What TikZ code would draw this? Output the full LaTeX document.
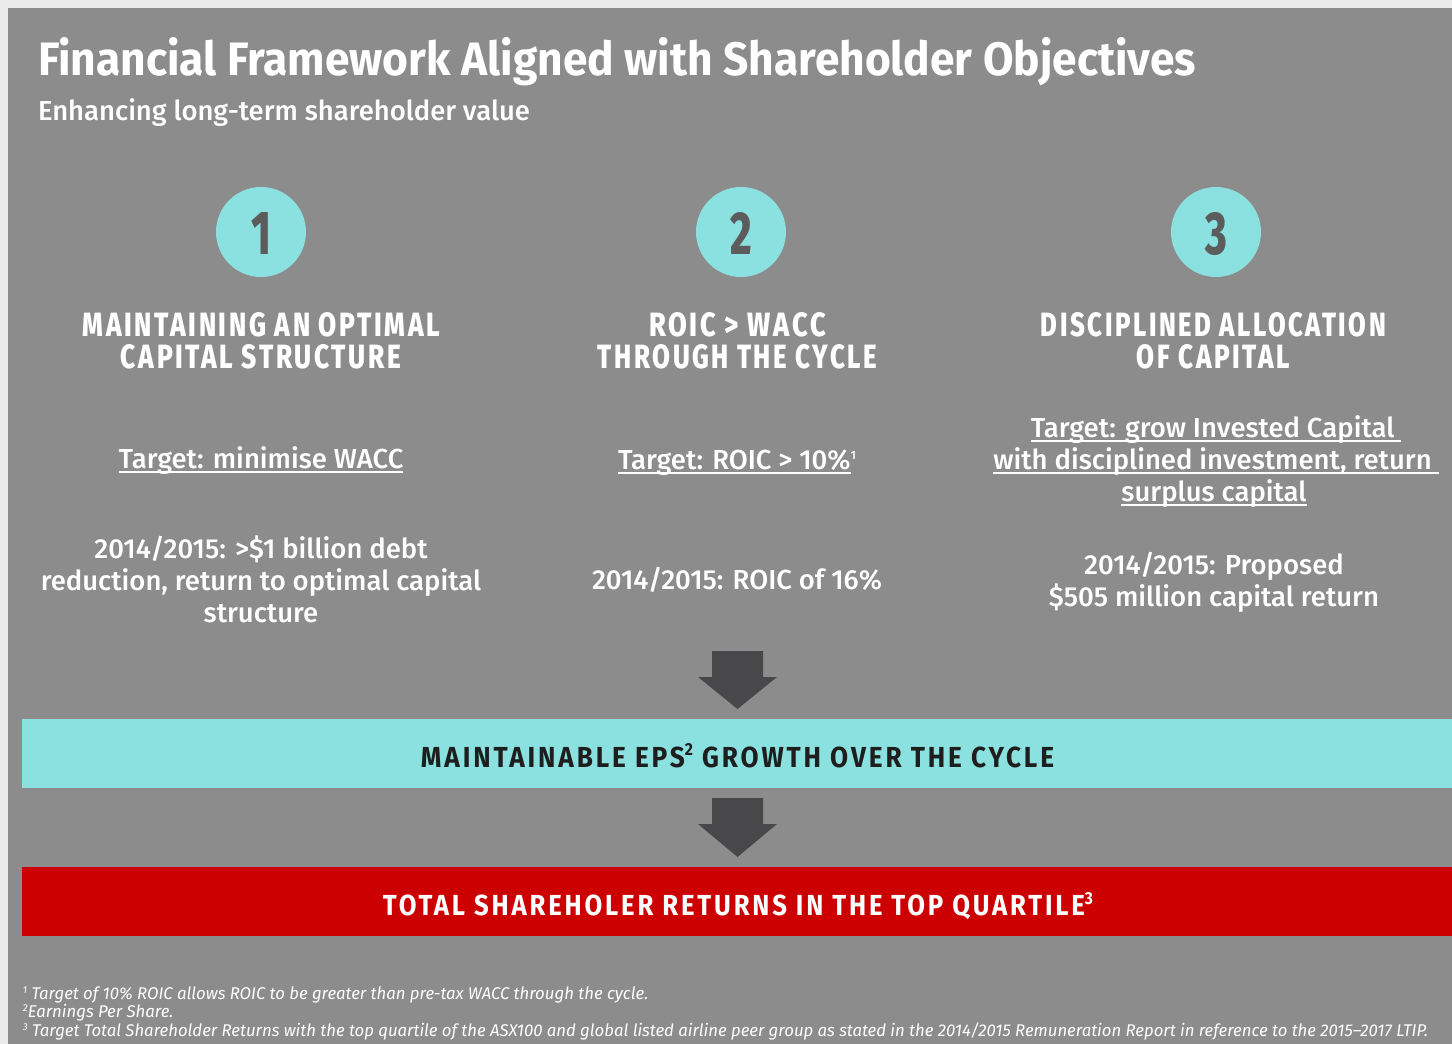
\documentclass[tikz,border=0pt]{standalone}
\usepackage{fontspec}
\usepackage{graphicx}
\setmainfont{Fira Sans}
\newfontfamily\bodyf{Fira Sans Medium}
\newfontfamily\headf{Fira Sans Medium}[LetterSpace=10]
\newfontfamily\bandf{Fira Sans}[LetterSpace=11]
\newfontfamily\titlef{Fira Sans}
\newfontfamily\numf{Fira Sans Medium}
\newfontfamily\footf{Fira Sans}[FakeStretch=0.985]
\definecolor{framecol}{HTML}{EBEBEB}
\definecolor{bgcol}{HTML}{8C8C8C}
\definecolor{tealcol}{HTML}{8AE1DF}
\definecolor{redcol}{HTML}{CC0000}
\definecolor{arrowcol}{HTML}{48484A}
\definecolor{numcol}{HTML}{5C5C5C}
\definecolor{darktxt}{HTML}{1E1E1E}
\newcommand\ulx[1]{\setbox0=\hbox{#1}\rlap{\rule[-5pt]{\wd0}{1.8pt}}\box0}
\newcommand\bsize{\fontsize{27.5}{32}\selectfont}
\newcommand\fsup[1]{\raisebox{5.5pt}{\fontsize{10}{10}\selectfont #1}}
\tikzset{
  txt/.style={inner sep=0pt, outer sep=0pt, text=white, anchor=base},
  body/.style={txt, font=\bodyf\bsize},
  foot/.style={txt, anchor=base west, font=\footf\itshape\fontsize{17}{17}\selectfont},
  circ/.style={circle, fill=tealcol, minimum size=90pt, inner sep=0pt},
  bigarrow/.style={fill=arrowcol, draw=none},
}
\begin{document}
\begin{tikzpicture}[x=1pt,y=-1pt]
\useasboundingbox (0,0) rectangle (1452,1044);
\fill[framecol] (0,0) rectangle (1452,1044);
\fill[bgcol] (8,8) rectangle (1452,1044);

% title
\node[txt, anchor=base west] (title) at (38,75)
  {\resizebox{1158pt}{38pt}{\titlef\bfseries\scalebox{0.85}[1]{Financial Framework Aligned with Shareholder Objectives}}};
\node[txt, anchor=base west] (sub) at (38,120)
  {\resizebox{492pt}{!}{\bodyf\fontsize{26}{26}\selectfont Enhancing long-term shareholder value}};

% circles
\node[circ] (c1) at (261,232) {};
\node[circ] (c2) at (741,232) {};
\node[circ] (c3) at (1216,232) {};
\node[txt, text=numcol] (n1) at (261,254) {\resizebox{!}{42pt}{\numf\bfseries\scalebox{0.68}[1]{1}}};
\node[txt, text=numcol] (n2) at (741,254) {\resizebox{!}{42pt}{\numf\bfseries\scalebox{0.68}[1]{2}}};
\node[txt, text=numcol] (n3) at (1216,254) {\resizebox{!}{42pt}{\numf\bfseries\scalebox{0.68}[1]{3}}};

% headings
\node[txt] (h1a) at (261.5,336) {\resizebox{357pt}{24pt}{\headf\bfseries MAINTAINING AN OPTIMAL}};
\node[txt] (h1b) at (261,368) {\resizebox{280pt}{24pt}{\headf\bfseries CAPITAL STRUCTURE}};
\node[txt] (h2a) at (737.5,336) {\resizebox{177pt}{24pt}{\headf\bfseries ROIC > WACC}};
\node[txt] (h2b) at (737.5,368) {\resizebox{279pt}{24pt}{\headf\bfseries THROUGH THE CYCLE}};
\node[txt] (h3a) at (1213.5,336) {\resizebox{345pt}{24pt}{\headf\bfseries DISCIPLINED ALLOCATION}};
\node[txt] (h3b) at (1213.5,368) {\resizebox{153pt}{24pt}{\headf\bfseries OF CAPITAL}};

% targets
\node[body] (t1) at (261,468) {\ulx{Target: minimise WACC}};
\node[body] (t2) at (737,469) {\ulx{Target: ROIC > 10\%}\raisebox{10pt}{\fontsize{12}{12}\selectfont 1}};
\node[body] (t3a) at (1216,437) {\ulx{Target: grow Invested Capital\ }};
\node[body] (t3b) at (1216,469) {\ulx{with disciplined investment, return\ }};
\node[body] (t3c) at (1214,501) {\ulx{surplus capital}};

% results
\node[body] (r1a) at (261,558) {2014/2015: >\$1 billion debt};
\node[body] (r1b) at (261,590) {reduction, return to optimal capital};
\node[body] (r1c) at (261,622) {structure};
\node[body] (r2) at (737,589) {2014/2015: ROIC of 16\%};
\node[body] (r3a) at (1214,574) {2014/2015: Proposed};
\node[body] (r3b) at (1214,606) {\$505 million capital return};

% arrows
\fill[bigarrow] (712,651) -- (763,651) -- (763,677) -- (777,677) -- (737.5,709) -- (698,677) -- (712,677) -- cycle;
\fill[bigarrow] (712,798) -- (763,798) -- (763,824) -- (777,824) -- (737.5,857) -- (698,824) -- (712,824) -- cycle;

% bands
\fill[tealcol] (22,719) rectangle (1452,788);
\node[txt, text=darktxt] (eps) at (737.5,767)
  {\resizebox{633pt}{23pt}{\bandf\bfseries MAINTAINABLE EPS\raisebox{0.38em}{\fontsize{6}{6}\selectfont 2} GROWTH OVER THE CYCLE}};
\fill[redcol] (22,867) rectangle (1452,936);
\node[txt] (tsr) at (738,915)
  {\resizebox{710pt}{23pt}{\bandf\bfseries TOTAL SHAREHOLER RETURNS IN THE TOP QUARTILE\raisebox{0.38em}{\fontsize{6}{6}\selectfont 3}}};

% footnotes
\node[foot] (f1) at (23,999) {\fsup{1} Target of 10\% ROIC allows ROIC to be greater than pre-tax WACC through the cycle.};
\node[foot] (f2) at (23,1017) {\fsup{2}Earnings Per Share.};
\node[foot] (f3) at (23,1036) {\fsup{3} Target Total Shareholder Returns with the top quartile of the ASX100 and global listed airline peer group as stated in the 2014/2015 Remuneration Report in reference to the 2015–2017 LTIP.};
\end{tikzpicture}
\end{document}
